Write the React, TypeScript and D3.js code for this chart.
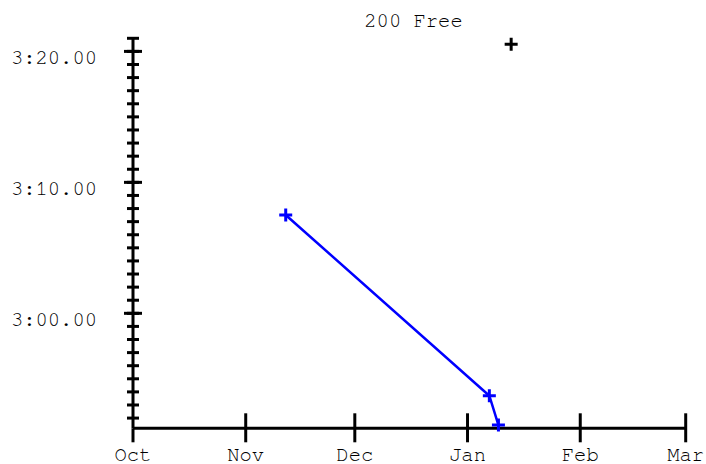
import React from "react";
import * as d3 from "d3";

const title = "200 Free";
const monthTicks = ["2023-10-01", "2023-11-01", "2023-12-01", "2024-01-01", "2024-02-01", "2024-03-01"];
const monthLabels = ["Oct", "Nov", "Dec", "Jan", "Feb", "Mar"];
const seriesDates = ["2023-11-12", "2024-01-07", "2024-01-09T12:00"];
const seriesTimes = [187.51, 173.71, 171.47]; // seconds
const extraDates = ["2024-01-13"];
const extraTimes = [200.54];
const majorTicks = [180, 190, 200];
const majorLabels = ["3:00.00", "3:10.00", "3:20.00"];
const minorTicks = d3.range(172, 202, 1);

const W = 706, H = 464;

export default function App() {
  const x = d3.scaleUtc()
    .domain([new Date(monthTicks[0] + "T00:00Z"), new Date(monthTicks[5] + "T00:00Z")])
    .range([133, 685.7]);
  const y = d3.scaleLinear().domain([171.22, 201]).range([428.3, 38.3]);
  const pd = (s: string) => new Date(s.includes("T") ? s + "Z" : s + "T00:00Z");

  const line = d3.line<[number, number]>().x(d => d[0]).y(d => d[1]);
  const pts: [number, number][] = seriesDates.map((d, i) => [x(pd(d)), y(seriesTimes[i])]);
  const extra: [number, number][] = extraDates.map((d, i) => [x(pd(d)), y(extraTimes[i])]);
  const font = "'Nimbus Mono PS', 'FreeMono', 'Courier', 'Courier New', 'Liberation Mono', monospace";
  const plus = (p: [number, number], color: string, key: string) => (
    <path key={key} d={`M${p[0] - 6.5},${p[1]}H${p[0] + 6.5}M${p[0]},${p[1] - 6.5}V${p[1] + 6.5}`} stroke={color} strokeWidth={3} fill="none" />
  );
  const y0 = y.range()[0];
  const x0 = x.range()[0];

  return (
    <svg width={W} height={H} style={{ position: "absolute", left: 0, top: 0 }} fontFamily={font}>
      <rect width={W} height={H} fill="white" />
      <text x={413.5} y={27} textAnchor="middle" fontSize={20.5} fill="#000">{title}</text>
      <line x1={x0} x2={x0} y1={y.range()[1]} y2={y0} stroke="#000" strokeWidth={3} />
      {minorTicks.map(v => (
        <line key={"m" + v} x1={x0 - 6} x2={x0 + 6} y1={y(v)} y2={y(v)} stroke="#000" strokeWidth={3} />
      ))}
      {majorTicks.map((v, i) => (
        <g key={"M" + v}>
          <line x1={x0 - 9} x2={x0 + 9} y1={y(v)} y2={y(v)} stroke="#000" strokeWidth={3} />
          <text x={97} y={y(v) + 13} textAnchor="end" fontSize={20.5} fill="#000">{majorLabels[i]}</text>
        </g>
      ))}
      <line x1={x0} x2={x.range()[1]} y1={y0} y2={y0} stroke="#000" strokeWidth={3} />
      {monthTicks.map((m, i) => {
        const xv = x(pd(m));
        return (
          <g key={m}>
            <line x1={xv} x2={xv} y1={i === 0 ? y0 : y0 - 15} y2={y0 + 14} stroke="#000" strokeWidth={3} />
            <text x={xv} y={461} textAnchor="middle" fontSize={20.5} fill="#000">{monthLabels[i]}</text>
          </g>
        );
      })}
      <path d={line(pts) || ""} stroke="#0000ff" strokeWidth={2.5} fill="none" />
      {pts.map((p, i) => plus(p, "#0000ff", "b" + i))}
      {extra.map((p, i) => plus(p, "#000", "k" + i))}
    </svg>
  );
}
